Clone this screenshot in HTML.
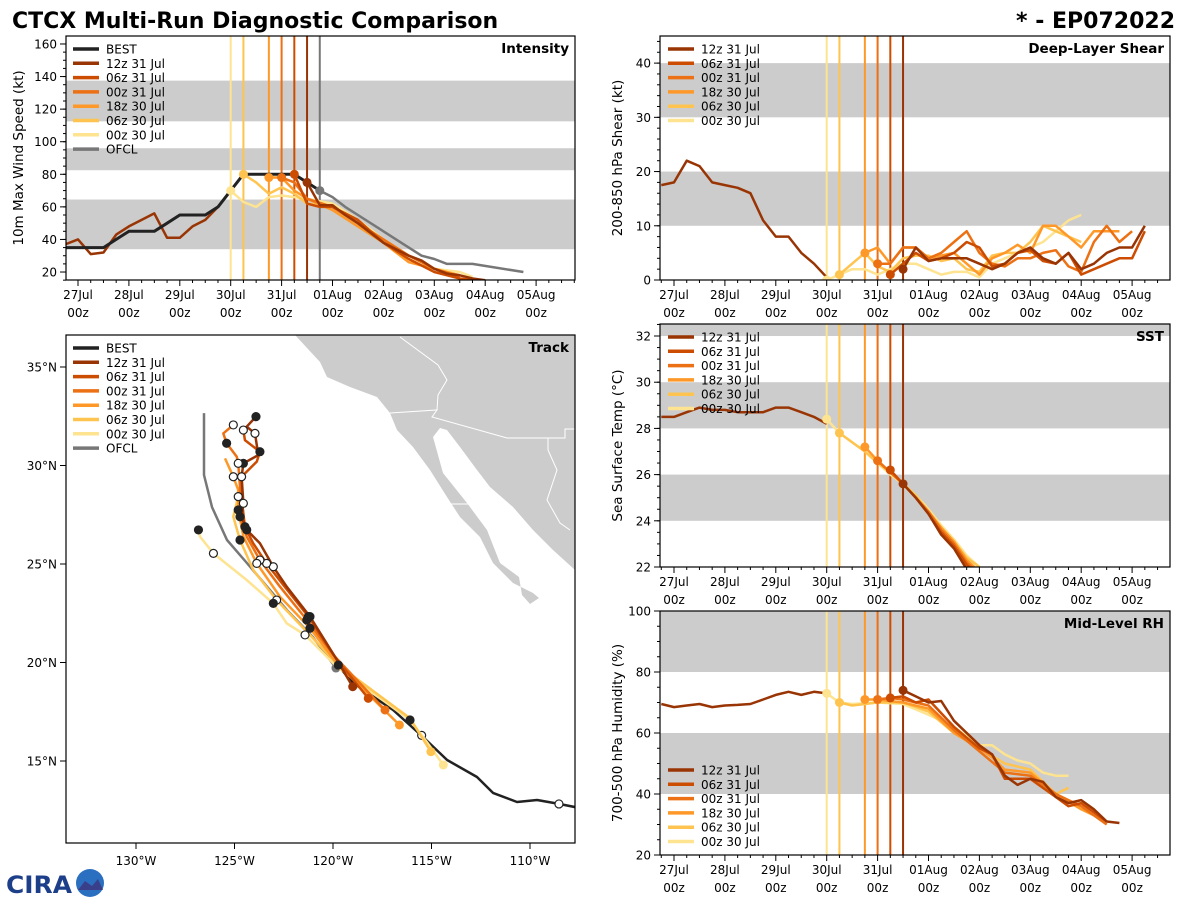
<!DOCTYPE html>
<html><head><meta charset="utf-8"><style>
body{margin:0;background:#fff;width:1200px;height:900px;overflow:hidden;font-family:"Liberation Sans","DejaVu Sans",sans-serif}
svg text{font-family:"DejaVu Sans","Liberation Sans",sans-serif}
</style></head><body>
<svg id="c" width="1200" height="900" xmlns="http://www.w3.org/2000/svg">
<text x="12" y="28" font-size="22" font-weight="bold">CTCX Multi-Run Diagnostic Comparison</text>
<text x="1175" y="28" font-size="22" font-weight="bold" text-anchor="end">* - EP072022</text>
<g>
<text x="6" y="893" font-size="24" font-weight="bold" fill="#1d3f8a" font-family="Liberation Serif,serif" textLength="66" lengthAdjust="spacingAndGlyphs">CIRA</text>
<circle cx="90" cy="883" r="14" fill="#2a6fc0"/>
<path d="M78 890 L85 881 L92 886 L98 879 L103 890 Z" fill="#3a3f8a"/>
</g>
</svg>
<script>
const NS='http://www.w3.org/2000/svg';
const svg=document.getElementById('c');
function mk(tag,at,parent){const e=document.createElementNS(NS,tag);for(const k in at)e.setAttribute(k,at[k]);(parent||svg).appendChild(e);return e;}

// ---------- DATA ----------
const runNames=['12z 31 Jul','06z 31 Jul','00z 31 Jul','18z 30 Jul','06z 30 Jul','00z 30 Jul'];
const runColors=['#993404','#cc4c02','#ec7014','#fe9929','#fec44f','#fee391'];
const runInit=[31.5,31.25,31.0,30.75,30.25,30.0];
const ofclInit=31.75;
const dayTicks=[27,28,29,30,31,32,33,34,35,36];
const dayLabels=['27Jul','28Jul','29Jul','30Jul','31Jul','01Aug','02Aug','03Aug','04Aug','05Aug'];

// Intensity
const bestT=[26.75,27,27.25,27.5,27.75,28,28.25,28.5,28.75,29,29.25,29.5,29.75,30,30.25,30.5,30.75,31,31.25,31.5,31.75];
const bestV=[35,35,35,35,40,45,45,45,50,55,55,55,60,70,80,80,80,80,80,75,70];
const ofclT=[31.75,32,32.25,32.5,33,33.5,33.75,34,34.25,34.75,35.75];
const ofclV=[70,66,60,55,45,35,30,28,25,25,20];
const histT=[26.75,27,27.25,27.5,27.75,28,28.25,28.5,28.75,29,29.25,29.5,29.75,30];
const histV=[37,40,31,32,43,48,52,56,41,41,48,52,60,70];
const intT=[
[31.5,31.75,32,32.25,32.5,33,33.5,33.75,34,34.25,34.5,34.75,35],
[31.25,31.5,31.75,32,32.5,33,33.5,34,34.5,34.75],
[31,31.25,31.5,32,32.5,33,33.5,34,34.5],
[30.75,31,31.25,31.5,32,32.5,33,33.5,34,34.5],
[30.25,30.5,30.75,31,31.25,31.5,32,32.5,33,33.5,34,34.5],
[30,30.25,30.5,30.75,31,31.5,32,32.5,33,33.5,34,34.5,34.75]];
const intV=[
[75,61,61,55,50,38,30,27,22,19,18,16,15],
[80,62,60,60,52,38,28,20,16,15],
[78,75,65,60,50,40,30,22,17],
[78,78,70,65,58,48,38,26,22,18],
[80,75,68,72,68,62,60,50,40,30,22,18],
[70,63,60,66,67,65,62,52,40,30,22,20,17]];

// Shear
const shHistT=[26.75,27,27.25,27.5,27.75,28,28.25,28.5,28.75,29,29.25,29.5,29.75,30];
const shHistV=[17.5,18,22,21,18,17.5,17,16,11,8,8,5,3,0.5];
const shT=[
[31.5,31.75,32,32.25,32.5,32.75,33,33.25,33.5,33.75,34,34.25,34.5,34.75,35,35.25,35.5,35.75,36,36.25],
[31.25,31.5,31.75,32,32.25,32.5,32.75,33,33.25,33.5,33.75,34,34.25,34.5,34.75,35,35.25,35.5,35.75,36,36.25],
[31,31.25,31.5,31.75,32,32.25,32.5,32.75,33,33.25,33.5,33.75,34,34.25,34.5,34.75,35,35.25,35.5,35.75,36],
[30.75,31,31.25,31.5,31.75,32,32.25,32.5,32.75,33,33.25,33.5,33.75,34,34.25,34.5,34.75,35,35.25,35.5,35.75],
[30.25,30.5,30.75,31,31.25,31.5,31.75,32,32.25,32.5,32.75,33,33.25,33.5,33.75,34,34.25,34.5,34.75,35],
[30,30.25,30.5,30.75,31,31.25,31.5,31.75,32,32.25,32.5,32.75,33,33.25,33.5,33.75,34,34.25,34.5,34.75,35]];
const shV=[
[2,6,3.5,4,4,4,3,2,3,5,6,4,3,5,2,3,5,6,6,10],
[1,3,5,3.5,4,5,7,6,2.5,3,5,5.5,3.5,3,5,1,2,3,4,4,9],
[3,3,6,6,4,5,7,9,5,3,2.5,4,4,5,5.5,2.5,1.5,7,10,7,9],
[5,6,3,6,6,4,4.5,5,3,1,4,5,6.5,5,10,10,8,6,9,9,9],
[1,3,5,2.5,1.5,4,4.5,4.5,3.5,4,2,1.5,4.5,5,5,7,10,9,8,7],
[0,1,2,2,1,2,3,3,2,1,1.5,1.5,0.5,3,4,5,6,7,9,11,12]];

// SST
const sstHistT=[26.75,27,27.25,27.5,27.75,28,28.25,28.5,28.75,29,29.25,29.5,29.75,30];
const sstHistV=[28.5,28.5,28.7,28.9,28.8,28.8,28.7,28.7,28.7,28.9,28.9,28.7,28.5,28.2];
const sstT=[30,30.25,30.5,30.75,31,31.25,31.5,31.75,32,32.25,32.5,32.75,33];
const sstV=[
[28.2,27.8,27.5,27.2,26.7,26.2,25.6,25.0,24.3,23.4,22.8,21.9,21.5],
[28.2,27.8,27.5,27.1,26.7,26.2,25.6,25.0,24.3,23.5,22.9,22.1,21.6],
[28.2,27.8,27.4,27.0,26.6,26.1,25.6,25.0,24.4,23.6,23.0,22.2,21.7],
[28.2,27.8,27.4,27.2,26.6,26.1,25.6,25.0,24.4,23.7,23.1,22.3,21.8],
[28.2,27.8,27.4,27.0,26.5,26.1,25.6,25.1,24.4,23.7,23.1,22.4,22.0],
[28.4,27.8,27.4,27.0,26.5,26.0,25.6,25.1,24.5,23.8,23.2,22.5,22.0]];

// RH
const rhHistT=[26.75,27,27.25,27.5,27.75,28,28.25,28.5,28.75,29,29.25,29.5,29.75,30];
const rhHistV=[69.5,68.5,69,69.5,68.5,69,69.2,69.5,71,72.5,73.5,72.5,73.5,73];
const rhT=[
[31.5,31.75,32,32.25,32.5,33,33.25,33.5,33.75,34,34.25,34.5,34.75,35,35.25,35.5,35.75],
[31.25,31.5,31.75,32,32.5,33,33.25,33.5,34,34.5,34.75,35,35.5],
[31,31.25,31.5,32,32.5,33,33.5,34,34.5,35,35.5],
[30.75,31,31.5,32,32.5,33,33.25,33.5,34,34.5,35,35.5],
[30.25,30.5,31,31.5,32,32.5,33,33.5,34,34.25,34.5,34.75],
[30,30.25,30.5,31,31.5,32,32.25,32.5,33,33.25,33.5,33.75,34,34.25,34.5,34.75]];
const rhV=[
[74,72,70,70.5,64,56,53,46,43,45,44,39,37,38,35,31,30.5],
[71.5,72,70,71,62,55,53,45,45,39,36,37,31],
[71,71.5,71,69,61,54,47,46,40,36,30],
[71,71,70,68,60,55,52,48,47,40,35,31],
[70,69,70,70,67,60,55,50,48,44,40,42],
[73,70,69.5,70,69.5,66,64,62,56,56,53,51,50,47,46,46]];

// Track (lon deg E, lat deg N)
const bestLon=[-107.71,-108.53,-109.64,-110.66,-111.88,-112.69,-114.21,-115.43,-116.95,-118.98,-120.0];
const bestLat=[12.66,12.82,13.02,12.92,13.38,14.19,15.05,16.22,17.59,18.96,20.13];
const ofclLon=[-119.85,-121.02,-122.34,-124.37,-125.38,-126.14,-126.55,-126.55];
const ofclLat=[19.72,21.29,22.66,25.05,26.22,27.89,29.52,32.66];
const trkLon=[
[-119.0,-119.85,-121.17,-122.35,-123.03,-123.71,-124.38,-124.64,-124.55,-124.64,-124.55,-123.79,-123.96,-124.38,-123.91],
[-118.21,-119.85,-121.25,-122.52,-123.37,-124.05,-124.47,-124.59,-124.64,-123.87,-123.71,-124.47,-124.55],
[-117.36,-119.98,-121.33,-122.69,-123.71,-124.38,-124.72,-124.72,-124.81,-124.89,-125.40,-125.57,-125.06],
[-116.63,-119.81,-121.17,-122.69,-123.87,-124.55,-124.81,-124.81,-125.06,-125.48],
[-115.03,-116.09,-119.73,-121.33,-122.86,-124.05,-124.72,-125.06,-124.81,-124.72],
[-114.40,-115.25,-116.09,-119.81,-121.42,-122.35,-123.03,-124.38,-126.07,-126.75,-126.83]];
const trkLat=[
[18.77,20.21,22.33,23.85,24.86,26.05,26.73,27.40,28.08,29.43,30.11,30.53,31.63,31.97,32.48],
[18.18,20.21,22.33,23.93,25.03,26.05,26.89,27.91,29.43,30.20,30.70,31.29,31.80],
[17.59,20.38,22.16,23.85,25.20,26.39,27.40,28.93,30.11,30.45,31.13,31.63,32.06],
[16.83,19.96,21.74,23.34,25.03,26.39,27.74,28.76,29.43,30.36],
[15.47,17.17,19.87,21.57,23.17,24.70,26.22,27.40,28.42,28.93],
[14.80,15.98,17.08,19.79,21.40,21.99,23.00,24.19,25.54,26.39,26.73]];
const lonTicks=[-130,-125,-120,-115,-110];
const latTicks=[15,20,25,30,35];

// ---------- HELPERS ----------
const BEST_C='#222222', OFCL_C='#777777';
function pts(xs,ys,fx,fy){return xs.map((x,i)=>fx(x).toFixed(1)+','+fy(ys[i]).toFixed(1)).join(' ');}
let clipN=0;
function panel(o){
  const g=mk('g',{});
  
  
  const id='clip'+(clipN++);
  const cp=mk('clipPath',{id:id},g);mk('rect',{x:o.x0,y:o.y0,width:o.x1-o.x0,height:o.y1-o.y0},cp);
  const fy=v=>o.y1-(v-o.ymin)/(o.ymax-o.ymin)*(o.y1-o.y0);
  const inner=mk('g',{'clip-path':'url(#'+id+')'},g);
  o.bands.forEach(b=>{const r=mk('rect',{x:o.x0,y:fy(b[1]),width:o.x1-o.x0,height:fy(b[0])-fy(b[1]),fill:'#cccccc'},inner);
    
    });
  return {g,inner,fy};
}
function frame(g,o){const r=mk('rect',{x:o.x0,y:o.y0,width:o.x1-o.x0,height:o.y1-o.y0,fill:'none',stroke:'#000','stroke-width':1.2},g);
  
  }
function timeAxis(g,o,fx){
  for(let d=26.75;d<=36.8;d+=0.25){const x=fx(d);if(x<o.x0||x>o.x1)continue;const maj=Math.abs(d-Math.round(d))<0.01;
    mk('line',{x1:x,x2:x,y1:o.y1,y2:o.y1+(maj?6:3),stroke:'#000','stroke-width':1},g);}
  dayTicks.forEach((d,i)=>{const x=fx(d);
    const t=mk('text',{x:x,y:o.y1+19,'font-size':12,'text-anchor':'middle'},g);t.textContent=dayLabels[i];
    
    
    const t2=mk('text',{x:x,y:o.y1+37,'font-size':12,'text-anchor':'middle'},g);t2.textContent='00z';
    
    });
}
function yAxis(g,o,fy,ticks,minor,title,tx){
  for(let v=o.ymin-o.ymin%minor;v<=o.ymax;v+=minor){const y=fy(v);if(y<o.y0-0.5||y>o.y1+0.5)continue;
    mk('line',{x1:o.x0-3,x2:o.x0,y1:y,y2:y,stroke:'#000'},g);}
  ticks.forEach(v=>{const y=fy(v);mk('line',{x1:o.x0-6,x2:o.x0,y1:y,y2:y,stroke:'#000'},g);
    const t=mk('text',{x:o.x0-9,y:y+4.5,'font-size':12,'text-anchor':'end'},g);t.textContent=v;
    
    });
  const cy=(o.y0+o.y1)/2;const t=mk('text',{x:tx,y:cy,'font-size':13.5,'text-anchor':'middle',transform:'rotate(-90 '+tx+' '+cy+')'},g);
  t.textContent=title;
  
  
}
function ptitle(g,o,s){const t=mk('text',{x:o.x1-6,y:o.y0+17,'font-size':13.5,'font-weight':'bold','text-anchor':'end'},g);t.textContent=s;
  
  }
function legend(g,x,y,entries){entries.forEach((e,i)=>{const yy=y+i*14.3;
  const l=mk('line',{x1:x,x2:x+26,y1:yy,y2:yy,stroke:e[1],'stroke-width':3.5},g);
  
  
  const t=mk('text',{x:x+33,y:yy+4.5,'font-size':12},g);t.textContent=e[0];
  
  });}
function line(par,xs,ys,fx,fy,c,w,nm){const p=mk('polyline',{points:pts(xs,ys,fx,fy),fill:'none',stroke:c,'stroke-width':w||2.5,'stroke-linejoin':'round'},par);
  
  return p;}
function vlines(par,o,fx,withOfcl){runInit.forEach((d,i)=>{const l=mk('line',{x1:fx(d),x2:fx(d),y1:o.y0,y2:o.y1,stroke:runColors[i],'stroke-width':2},par);
  
  });
  if(withOfcl){const l=mk('line',{x1:fx(ofclInit),x2:fx(ofclInit),y1:o.y0,y2:o.y1,stroke:OFCL_C,'stroke-width':2},par);
  
  }}
function dot(par,x,y,c,nm,r,stroke){const d=mk('circle',{cx:x,cy:y,r:r||4.5,fill:c,stroke:stroke||'none','stroke-width':1.2},par);
  
  }

// ---------- INTENSITY ----------
(function(){
  const o={name:'intensity-panel',x0:66,x1:575,y0:36,y1:280,ymin:15.1,ymax:164.9,bands:[[34,64.5],[82.5,96],[112.5,137.5]]};
  const P=panel(o);const fx=d=>78+(d-27)*50.9;
  vlines(P.inner,o,fx,true);
  line(P.inner,histT,histV,fx,P.fy,runColors[0],2.5,'intensity-history-line');
  line(P.inner,bestT,bestV,fx,P.fy,BEST_C,3,'best-intensity-line');
  for(let i=5;i>=0;i--){line(P.inner,intT[i],intV[i],fx,P.fy,runColors[i],2.5,'intensity-run-line');
    dot(P.inner,fx(intT[i][0]),P.fy(intV[i][0]),runColors[i],'intensity-init-dot');}
  line(P.inner,ofclT,ofclV,fx,P.fy,OFCL_C,2.5,'ofcl-intensity-line');
  dot(P.inner,fx(ofclT[0]),P.fy(ofclV[0]),OFCL_C,'ofcl-init-dot');
  frame(P.g,o);timeAxis(P.g,o,fx);
  yAxis(P.g,o,P.fy,[20,40,60,80,100,120,140,160],5,'10m Max Wind Speed (kt)',23);
  ptitle(P.g,o,'Intensity');
  legend(P.g,73,49,[['BEST',BEST_C]].concat(runNames.map((n,i)=>[n,runColors[i]])).concat([['OFCL',OFCL_C]]));
})();

// ---------- SHEAR ----------
(function(){
  const o={name:'shear-panel',x0:660,x1:1170,y0:36,y1:280,ymin:0,ymax:45,bands:[[10,20],[30,40]]};
  const P=panel(o);const fx=d=>674+(d-27)*50.9;
  vlines(P.inner,o,fx,false);
  line(P.inner,shHistT,shHistV,fx,P.fy,runColors[0],2.5,'shear-history-line');
  for(let i=5;i>=0;i--){line(P.inner,shT[i],shV[i],fx,P.fy,runColors[i],2.5,'shear-run-line');
    dot(P.inner,fx(shT[i][0]),P.fy(shV[i][0]),runColors[i],'shear-init-dot');}
  frame(P.g,o);timeAxis(P.g,o,fx);
  yAxis(P.g,o,P.fy,[0,10,20,30,40],2,'200-850 hPa Shear (kt)',622);
  ptitle(P.g,o,'Deep-Layer Shear');
  legend(P.g,668,49,runNames.map((n,i)=>[n,runColors[i]]));
})();

// ---------- SST ----------
(function(){
  const o={name:'sst-panel',x0:660,x1:1170,y0:324,y1:567,ymin:22,ymax:32.52,bands:[[24,26],[28,30],[32,33]]};
  const P=panel(o);const fx=d=>674+(d-27)*50.9;
  vlines(P.inner,o,fx,false);
  line(P.inner,sstHistT,sstHistV,fx,P.fy,runColors[0],2.5,'sst-history-line');
  for(let i=5;i>=0;i--){const t0=runInit[i];const xs=[],ys=[];sstT.forEach((t,k)=>{if(t>=t0-0.001){xs.push(t);ys.push(sstV[i][k]);}});
    line(P.inner,xs,ys,fx,P.fy,runColors[i],2.5,'sst-run-line');
    dot(P.inner,fx(xs[0]),P.fy(ys[0]),runColors[i],'sst-init-dot');}
  frame(P.g,o);timeAxis(P.g,o,fx);
  yAxis(P.g,o,P.fy,[22,24,26,28,30,32],0.5,'Sea Surface Temp (°C)',622);
  ptitle(P.g,o,'SST');
  legend(P.g,668,337,runNames.map((n,i)=>[n,runColors[i]]));
})();

// ---------- RH ----------
(function(){
  const o={name:'rh-panel',x0:660,x1:1170,y0:611,y1:855,ymin:20,ymax:100,bands:[[40,60],[80,100]]};
  const P=panel(o);const fx=d=>674+(d-27)*50.9;
  vlines(P.inner,o,fx,false);
  line(P.inner,rhHistT,rhHistV,fx,P.fy,runColors[0],2.5,'rh-history-line');
  for(let i=5;i>=0;i--){line(P.inner,rhT[i],rhV[i],fx,P.fy,runColors[i],2.5,'rh-run-line');
    dot(P.inner,fx(rhT[i][0]),P.fy(rhV[i][0]),runColors[i],'rh-init-dot');}
  frame(P.g,o);timeAxis(P.g,o,fx);
  yAxis(P.g,o,P.fy,[20,40,60,80,100],5,'700-500 hPa Humidity (%)',622);
  ptitle(P.g,o,'Mid-Level RH');
  legend(P.g,668,770,runNames.map((n,i)=>[n,runColors[i]]));
})();

// ---------- TRACK ----------
(function(){
  const o={name:'track-panel',x0:66,x1:575,y0:335,y1:843,ymin:0,ymax:1,bands:[]};
  const P=panel(o);
  const fx=lon=>136+(lon+130)*19.7, fy=lat=>367-(lat-35)*19.7;
  const land=mk('polygon',{fill:'#cccccc',points:'295,335 320,362 327,377 350,387 377,397 390,413 397,430 413,447 430,470 447,497 460,517 480,537 493,563 513,583 533,593 539,598 530,604 522,595 519,577 500,563 487,530 467,503 443,473 433,437 440,428 447,430 460,447 477,470 490,487 513,507 533,530 553,550 575,570 575,335'},P.inner);
  
  
  const bord=mk('polyline',{fill:'none',stroke:'#fff','stroke-width':1,points:'390,413 437,410 432,417 507,438 565,438 565,429 575,429'},P.inner);
  
  
  mk('polyline',{fill:'none',stroke:'#fff','stroke-width':1,points:'400,337 438,365 447,380 438,395 437,410'},P.inner);
  mk('polyline',{fill:'none',stroke:'#fff','stroke-width':1,points:'548,438 548,450 557,470 547,500 560,523 570,530'},P.inner);
  mk('polyline',{fill:'none',stroke:'#fff','stroke-width':1,points:'448,504 473,504'},P.inner);
  line(P.inner,bestLon,bestLat,fx,fy,BEST_C,2.5,'best-track-line');
  dot(P.inner,fx(bestLon[1]),fy(bestLat[1]),'#fff','best-track-marker',4,'#222');
  dot(P.inner,fx(-115.5),fy(16.3),'#fff','best-track-marker',4,'#222');
  line(P.inner,ofclLon,ofclLat,fx,fy,OFCL_C,2.5,'ofcl-track-line');
  dot(P.inner,fx(ofclLon[0]),fy(ofclLat[0]),OFCL_C,'ofcl-track-start');
  for(let i=5;i>=0;i--){line(P.inner,trkLon[i],trkLat[i],fx,fy,runColors[i],2.5,'track-run-line');
    dot(P.inner,fx(trkLon[i][0]),fy(trkLat[i][0]),runColors[i],'track-init-dot');}
  for(let i=0;i<6;i++){for(let k=2;k<trkLon[i].length;k+=2){const filled=(k/2)%2===1;
    dot(P.inner,fx(trkLon[i][k]),fy(trkLat[i][k]),filled?'#222':'#fff','track-position-marker',4,'#222');}}
  frame(P.g,o);
  lonTicks.forEach(v=>{const x=fx(v);mk('line',{x1:x,x2:x,y1:o.y1,y2:o.y1+6,stroke:'#000'},P.g);
    const t=mk('text',{x:x,y:o.y1+22,'font-size':12,'text-anchor':'middle'},P.g);t.textContent=Math.abs(v)+'°W';
    
    });
  latTicks.forEach(v=>{const y=fy(v);mk('line',{x1:o.x0-6,x2:o.x0,y1:y,y2:y,stroke:'#000'},P.g);
    const t=mk('text',{x:o.x0-9,y:y+4.5,'font-size':12,'text-anchor':'end'},P.g);t.textContent=v+'°N';
    
    });
  ptitle(P.g,o,'Track');
  legend(P.g,73,348,[['BEST',BEST_C]].concat(runNames.map((n,i)=>[n,runColors[i]])).concat([['OFCL',OFCL_C]]));
})();
</script>
</body></html>
